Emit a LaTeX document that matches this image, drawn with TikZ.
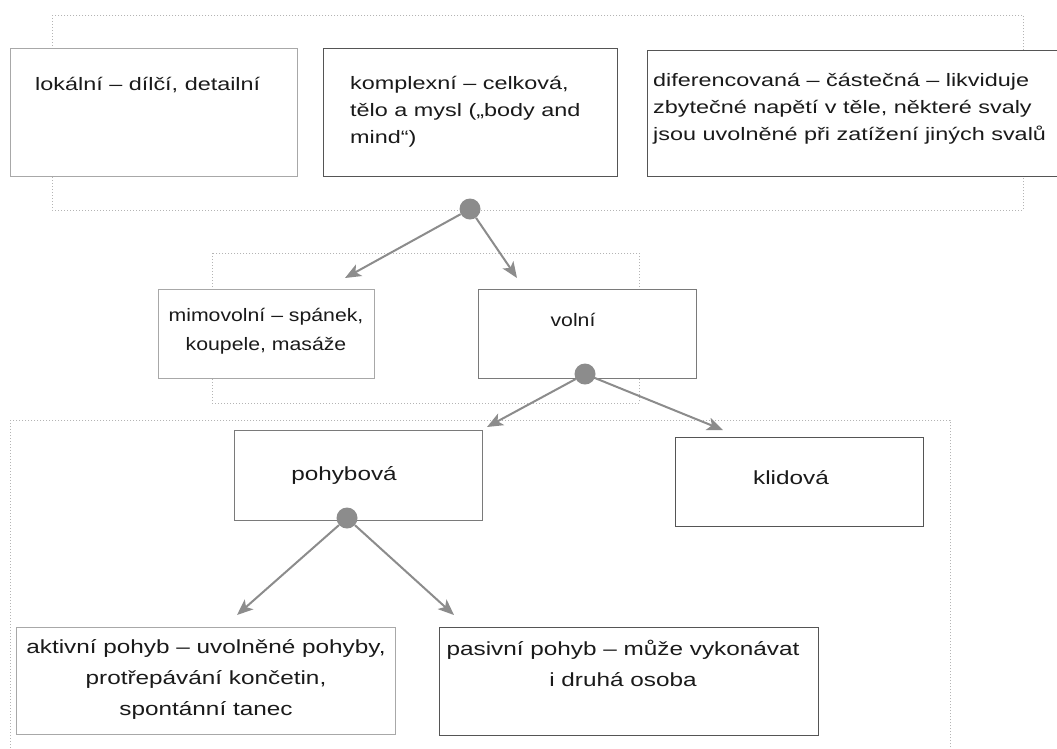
\documentclass[tikz,border=0pt]{standalone}
\usepackage{fontspec}
\setmainfont{Liberation Sans}[FakeStretch=1.3]
\newfontfamily\midfont{Liberation Sans}[FakeStretch=1.18]
\newfontfamily\botfont{Liberation Sans}[FakeStretch=1.28]
\usetikzlibrary{arrows.meta,calc}
\definecolor{framec}{HTML}{B4B4B4}
\definecolor{arrc}{HTML}{8C8C8C}
\definecolor{darkb}{HTML}{555555}
\definecolor{midb}{HTML}{7A7A7A}
\definecolor{lightb}{HTML}{A8A8A8}
\definecolor{txtc}{HTML}{1A1A1A}
\tikzset{
  frame/.style={draw=framec, line width=1pt, dash pattern=on 1pt off 2pt},
  bx/.style={draw=#1, line width=1.3pt, fill=white, inner sep=0pt, anchor=north west},
  dotn/.style={circle, fill=arrc, minimum size=21pt, inner sep=0pt},
  arr/.style={draw=arrc, line width=2pt, -{Stealth[length=16pt, width=13pt, inset=4pt]}},
  toptxt/.style={text=txtc, inner sep=0pt, align=left, font=\fontsize{18}{27}\selectfont},
  midtxt/.style={text=txtc, inner sep=0pt, align=center, font=\midfont\fontsize{18}{29}\selectfont},
  bottxt/.style={text=txtc, inner sep=0pt, align=center, font=\botfont\fontsize{19}{31}\selectfont},
}
\begin{document}
\begin{tikzpicture}[x=1pt, y=-1pt]
\useasboundingbox[fill=white] (0,0) rectangle (1057,748);
% dotted group frames
\draw[frame] (52,15) rectangle (1023,210);
\draw[frame] (212,253) rectangle (639,403);
\draw[frame] (10,420) rectangle (950,760);
% boxes
\node[bx=lightb, minimum width=287pt, minimum height=128pt] (lok) at (10,48) {};
\node[bx=darkb, minimum width=294pt, minimum height=128pt] (kom) at (323,48) {};
\node[bx=darkb, minimum width=420pt, minimum height=126pt] (dif) at (647,50) {};
\node[bx=lightb, minimum width=216pt, minimum height=89pt] (mim) at (158,289) {};
\node[bx=midb, minimum width=218pt, minimum height=89pt] (vol) at (478,289) {};
\node[bx=midb, minimum width=248pt, minimum height=90pt] (poh) at (234,430) {};
\node[bx=darkb, minimum width=248pt, minimum height=89pt] (kli) at (675,437) {};
\node[bx=lightb, minimum width=379pt, minimum height=107pt] (akt) at (16,627) {};
\node[bx=darkb, minimum width=379pt, minimum height=108pt] (pas) at (439,627) {};
% texts
\node[toptxt, anchor=west] (tlok) at (35,85) {lokální – dílčí, detailní};
\node[toptxt, anchor=west] (tkom) at (350,112) {komplexní – celková,\\tělo a mysl („body and\\mind“)};
\node[toptxt, anchor=west] (tdif) at (653,109) {diferencovaná – částečná – likviduje\\zbytečné napětí v těle, některé svaly\\jsou uvolněné při zatížení jiných svalů};
\node[midtxt] (tmim) at (266,331) {mimovolní – spánek,\\koupele, masáže};
\node[midtxt] (tvol) at (573,320) {volní};
\node[bottxt] (tpoh) at (344,475) {pohybová};
\node[bottxt] (tkli) at (791,478) {klidová};
\node[bottxt] (takt) at (206,679) {aktivní pohyb – uvolněné pohyby,\\protřepávání končetin,\\spontánní tanec};
\node[bottxt] (tpas) at (623,663) {pasivní pohyb – může vykonávat\\i druhá osoba};
% branching dots
\node[dotn] (d1) at (470,209) {};
\node[dotn] (d2) at (585,374) {};
\node[dotn] (d3) at (347,518) {};
% arrow end points
\coordinate (e1) at (345,278);
\coordinate (e2) at (517,278);
\coordinate (e3) at (487,427);
\coordinate (e4) at (723,430);
\coordinate (e5) at (237,615);
\coordinate (e6) at (454,615);
\draw[arr] (d1) -- (e1);
\draw[arr] (d1) -- (e2);
\draw[arr] (d2) -- (e3);
\draw[arr] (d2) -- (e4);
\draw[arr] (d3) -- (e5);
\draw[arr] (d3) -- (e6);
\end{tikzpicture}
\end{document}
